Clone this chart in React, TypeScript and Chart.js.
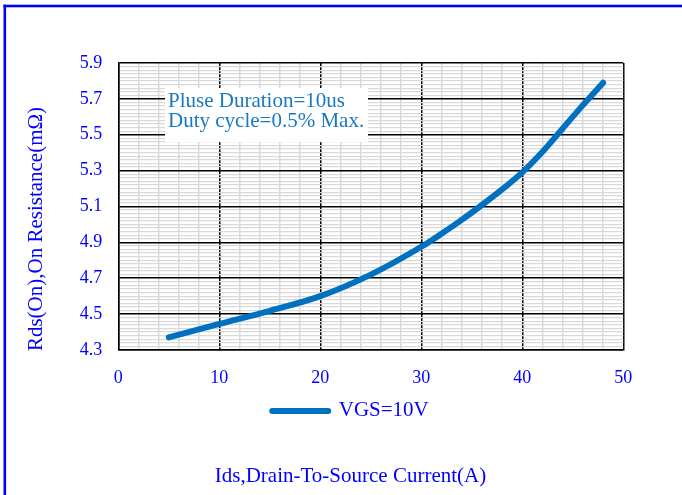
import { useEffect, useRef } from "react";
import { Chart, registerables } from "chart.js";

Chart.register(...registerables);

// ---- data ----
const CURRENT_A = [5, 10, 15, 20, 25, 30, 32, 34, 36, 38, 40, 42, 44, 46, 48];
const RDS_MOHM = [4.37, 4.445, 4.518, 4.6, 4.72, 4.875, 4.948, 5.025, 5.108, 5.195, 5.29, 5.405, 5.535, 5.665, 5.79];
const SERIES_LABEL = "VGS=10V";
const X_TICK_LABELS = ["0", "10", "20", "30", "40", "50"];
const Y_TICK_LABELS = ["4.3", "4.5", "4.7", "4.9", "5.1", "5.3", "5.5", "5.7", "5.9"];
const X_TITLE = "Ids,Drain-To-Source Current(A)";
const Y_TITLE = "Rds(On),On Resistance(mΩ)";
const NOTE_LINES = ["Pluse Duration=10us", "Duty cycle=0.5% Max."];

const FONT = "'Liberation Serif', 'Times New Roman', serif";
const BLUE = "#0000ff";
const LINE_BLUE = "#0070c0";

const X_MIN = 0, X_MAX = 50, X_MINOR = 2, X_MAJOR = 10;
const Y_MIN = 4.3, Y_MAX = 5.9, Y_MINOR = 0.02, Y_MAJOR = 0.2;

const isMajorX = (v: number) => Math.abs(v / X_MAJOR - Math.round(v / X_MAJOR)) < 1e-6;
const isMajorY = (v: number) => {
  const k = (v - Y_MIN) / Y_MAJOR;
  return Math.abs(k - Math.round(k)) < 1e-4;
};

const decor = {
  id: "decor",
  beforeDraw(chart: any) {
    const ctx = chart.ctx as CanvasRenderingContext2D;
    ctx.save();
    ctx.fillStyle = "#ffffff";
    ctx.fillRect(0, 0, chart.width, chart.height);
    ctx.fillStyle = BLUE;
    ctx.fillRect(3.5, 4.7, chart.width, 2.6);
    ctx.fillRect(3.5, 4.7, 2.6, chart.height);
    ctx.translate(36, 229);
    ctx.rotate(-Math.PI / 2);
    ctx.font = `21px ${FONT}`;
    ctx.textAlign = "center";
    ctx.textBaseline = "middle";
    ctx.fillStyle = BLUE;
    ctx.fillText(Y_TITLE, 0, 0);
    ctx.restore();
  },
  beforeDatasetsDraw(chart: any) {
    const ctx = chart.ctx as CanvasRenderingContext2D;
    ctx.save();
    ctx.fillStyle = "#ffffff";
    ctx.fillRect(165, 88, 203, 54);
    ctx.font = `21px ${FONT}`;
    ctx.fillStyle = "#1a78c2";
    ctx.textAlign = "left";
    ctx.textBaseline = "alphabetic";
    NOTE_LINES.forEach((t, i) => ctx.fillText(t, 168, 107 + i * 20));
    ctx.restore();
  },
};

export default function App() {
  const ref = useRef<HTMLCanvasElement | null>(null);
  useEffect(() => {
    if (!ref.current) return;
    const chart = new Chart(ref.current, {
      type: "line",
      data: {
        datasets: [
          {
            label: SERIES_LABEL,
            data: CURRENT_A.map((x, i) => ({ x, y: RDS_MOHM[i] })),
            borderColor: LINE_BLUE,
            backgroundColor: LINE_BLUE,
            borderWidth: 6,
            borderCapStyle: "round",
            borderJoinStyle: "round",
            pointRadius: 0,
            cubicInterpolationMode: "monotone",
            fill: false,
          },
        ],
      },
      options: {
        responsive: false,
        animation: false,
        devicePixelRatio: 1,
        layout: { padding: { left: 77.7, right: 58.7, top: 63, bottom: 6.4 } },
        scales: {
          x: {
            type: "linear",
            min: X_MIN,
            max: X_MAX,
            afterFit: (s: any) => { s.height = 40.5; },
            ticks: {
              stepSize: X_MINOR,
              autoSkip: false,
              maxRotation: 0,
              padding: 17.5,
              color: BLUE,
              font: { family: FONT, size: 18 },
              callback: (v: any) => (isMajorX(Number(v)) ? X_TICK_LABELS[Math.round(Number(v) / X_MAJOR)] : ""),
            },
            grid: {
              drawTicks: false,
              color: (c: any) => (isMajorX(c.tick.value) ? "#000000" : "#d9d9d9"),
              lineWidth: 1.5,
            },
            border: { color: "#000000", width: 1.5 },
          },
          y: {
            type: "linear",
            min: Y_MIN,
            max: Y_MAX,
            afterFit: (s: any) => { s.width = 40.6; },
            ticks: {
              stepSize: Y_MINOR,
              autoSkip: false,
              maxTicksLimit: 200,
              padding: 16,
              color: BLUE,
              font: { family: FONT, size: 18 },
              callback: (v: any) =>
                isMajorY(Number(v)) ? Y_TICK_LABELS[Math.round((Number(v) - Y_MIN) / Y_MAJOR)] : "",
            },
            grid: {
              drawTicks: false,
              color: (c: any) => (isMajorY(c.tick.value) ? "#000000" : "#d9d9d9"),
              lineWidth: (c: any) => (isMajorY(c.tick.value) ? 1.5 : 1.2),
            },
            border: { color: "#000000", width: 1.5 },
          },
        },
        plugins: {
          legend: {
            position: "bottom",
            labels: {
              color: BLUE,
              font: { family: FONT, size: 21 },
              boxWidth: 56,
              boxHeight: 0,
              padding: 10,
            },
          },
          title: {
            display: true,
            position: "bottom",
            text: X_TITLE,
            color: BLUE,
            font: { family: FONT, size: 21, weight: "normal" },
            padding: { top: 32, bottom: 0 },
          },
          tooltip: { enabled: false },
        },
      },
      plugins: [decor],
    } as any);
    return () => chart.destroy();
  }, []);
  return (
    <div style={{ position: "fixed", left: 0, top: 0, width: 682, height: 495, background: "#fff" }}>
      <canvas ref={ref} width={682} height={495} style={{ display: "block" }} />
    </div>
  );
}
